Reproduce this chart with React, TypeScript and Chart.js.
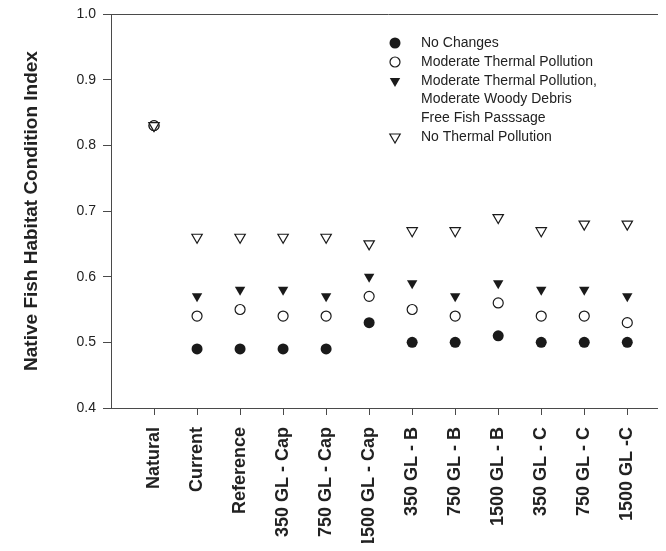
import React, { useEffect, useRef } from "react";
import { Chart, registerables } from "chart.js";

Chart.register(...registerables);

const categories = [
  "Natural",
  "Current",
  "Reference",
  "350 GL - Cap",
  "750 GL - Cap",
  "1500 GL - Cap",
  "350 GL - B",
  "750 GL - B",
  "1500 GL - B",
  "350 GL - C",
  "750 GL - C",
  "1500 GL -C",
];

const noChanges = [0.83, 0.49, 0.49, 0.49, 0.49, 0.53, 0.5, 0.5, 0.51, 0.5, 0.5, 0.5];
const moderateThermal = [0.83, 0.54, 0.55, 0.54, 0.54, 0.57, 0.55, 0.54, 0.56, 0.54, 0.54, 0.53];
const moderateAll = [0.83, 0.57, 0.58, 0.58, 0.57, 0.6, 0.59, 0.57, 0.59, 0.58, 0.58, 0.57];
const noThermal = [0.83, 0.66, 0.66, 0.66, 0.66, 0.65, 0.67, 0.67, 0.69, 0.67, 0.68, 0.68];

const yMin = 0.4;
const yMax = 1.0;
const yStep = 0.1;

const legendItems = [
  { lines: ["No Changes"], marker: "filledCircle" },
  { lines: ["Moderate Thermal Pollution"], marker: "openCircle" },
  {
    lines: ["Moderate Thermal Pollution,", "Moderate Woody Debris", "Free Fish Passsage"],
    marker: "filledTriangle",
  },
  { lines: ["No Thermal Pollution"], marker: "openTriangle" },
];

const INK = "#1a1a1a";
const AXIS = "#4a4a4a";
const FONT = "'Liberation Sans', Arial, Helvetica, sans-serif";

const W = 658;
const H = 543;

function drawMarker(ctx: CanvasRenderingContext2D, kind: string, x: number, y: number) {
  ctx.save();
  ctx.lineWidth = 1.2;
  ctx.strokeStyle = INK;
  if (kind === "filledCircle" || kind === "openCircle") {
    ctx.beginPath();
    ctx.arc(x, y, kind === "filledCircle" ? 5.5 : 5, 0, Math.PI * 2);
    if (kind === "filledCircle") {
      ctx.fillStyle = INK;
      ctx.fill();
    } else {
      ctx.fillStyle = "#fff";
      ctx.fill();
      ctx.stroke();
    }
  } else {
    const r = 6;
    ctx.beginPath();
    for (let k = 0; k < 3; k++) {
      const a = Math.PI / 2 + (k * 2 * Math.PI) / 3;
      const px = x + r * Math.cos(a);
      const py = y + r * Math.sin(a);
      if (k === 0) ctx.moveTo(px, py);
      else ctx.lineTo(px, py);
    }
    ctx.closePath();
    if (kind === "filledTriangle") {
      ctx.fillStyle = INK;
      ctx.fill();
    } else {
      ctx.fillStyle = "#fff";
      ctx.fill();
      ctx.stroke();
    }
  }
  ctx.restore();
}

const legendPlugin = {
  id: "customLegend",
  afterDraw(chart: any) {
    const ctx = chart.ctx as CanvasRenderingContext2D;
    const markerX = 387;
    const textX = 413;
    const lineH = 18.5;
    let y = 35;
    ctx.save();
    ctx.font = `14px ${FONT}`;
    ctx.fillStyle = "#222";
    ctx.textBaseline = "middle";
    ctx.textAlign = "left";
    for (const item of legendItems) {
      drawMarker(ctx, item.marker, markerX, y);
      item.lines.forEach((ln, i) => {
        ctx.fillText(ln, textX, y + i * lineH);
      });
      y += item.lines.length * lineH + 0.5;
    }
    ctx.restore();
  },
};

const frameTopPlugin = {
  id: "frameTop",
  afterDraw(chart: any) {
    const { ctx, chartArea } = chart;
    ctx.save();
    ctx.strokeStyle = AXIS;
    ctx.lineWidth = 1;
    ctx.beginPath();
    ctx.moveTo(chartArea.left, Math.round(chartArea.top) + 0.5);
    ctx.lineTo(chartArea.right, Math.round(chartArea.top) + 0.5);
    ctx.stroke();
    ctx.restore();
  },
};

export default function App() {
  const canvasRef = useRef<HTMLCanvasElement | null>(null);

  useEffect(() => {
    if (!canvasRef.current) return;
    const toPts = (arr: number[]) => arr.map((v, i) => ({ x: i, y: v }));

    const chart = new Chart(canvasRef.current, {
      type: "scatter",
      data: {
        datasets: [
          {
            label: "No Thermal Pollution",
            data: toPts(noThermal),
            pointStyle: "triangle",
            rotation: 180,
            pointRadius: 6,
            backgroundColor: "#fff",
            borderColor: INK,
            borderWidth: 1.2,
            order: 0,
          },
          {
            label: "Moderate Thermal Pollution",
            data: toPts(moderateThermal),
            pointStyle: "circle",
            pointRadius: 5,
            backgroundColor: "#fff",
            borderColor: INK,
            borderWidth: 1.2,
            order: 1,
          },
          {
            label: "Moderate Thermal Pollution, Moderate Woody Debris Free Fish Passsage",
            data: toPts(moderateAll),
            pointStyle: "triangle",
            rotation: 180,
            pointRadius: 6,
            backgroundColor: INK,
            borderColor: INK,
            borderWidth: 0,
            order: 2,
          },
          {
            label: "No Changes",
            data: toPts(noChanges),
            pointStyle: "circle",
            pointRadius: 5.5,
            backgroundColor: INK,
            borderColor: INK,
            borderWidth: 0,
            order: 3,
          },
        ],
      },
      options: {
        animation: false,
        responsive: false,
        maintainAspectRatio: false,
        devicePixelRatio: 1,
        layout: { autoPadding: false, padding: { top: 6, left: 0, right: 0, bottom: 0 } },
        plugins: {
          legend: { display: false },
          tooltip: { enabled: false },
        },
        scales: {
          x: {
            type: "linear",
            min: -1,
            max: 11.9,
            afterBuildTicks: (scale: any) => {
              scale.ticks = categories.map((_, i) => ({ value: i }));
            },
            afterFit: (scale: any) => {
              scale.height = 143;
              scale.paddingLeft = 0;
              scale.paddingRight = 0;
            },
            ticks: {
              autoSkip: false,
              minRotation: 90,
              maxRotation: 90,
              padding: 12,
              color: "#222",
              font: { family: FONT, size: 18, weight: "bold" },
              callback: (v: any) => categories[Math.round(Number(v))] ?? "",
            },
            grid: {
              display: true,
              drawOnChartArea: false,
              drawTicks: true,
              tickLength: 7,
              color: AXIS,
            },
            border: { color: AXIS, width: 1 },
          },
          y: {
            min: yMin,
            max: yMax,
            afterFit: (scale: any) => {
              scale.width = 103;
              scale.paddingTop = 0;
              scale.paddingBottom = 0;
            },
            ticks: {
              stepSize: yStep,
              padding: 7,
              color: "#222",
              font: { family: FONT, size: 14 },
              callback: (v: any) => Number(v).toFixed(1),
            },
            grid: {
              display: true,
              drawOnChartArea: false,
              drawTicks: true,
              tickLength: 8,
              color: AXIS,
            },
            border: { color: AXIS, width: 1 },
            title: {
              display: true,
              text: "Native Fish Habitat Condition Index",
              color: "#222",
              font: { family: FONT, size: 19, weight: "bold" },
              padding: { top: 12, bottom: 0 },
            },
          },
        },
      },
      plugins: [legendPlugin, frameTopPlugin],
    });

    return () => chart.destroy();
  }, []);

  return (
    <div style={{ width: W, height: H, marginBottom: -8 }}>
      <canvas ref={canvasRef} width={W} height={H} style={{ display: "block", width: W, height: H }} />
    </div>
  );
}
